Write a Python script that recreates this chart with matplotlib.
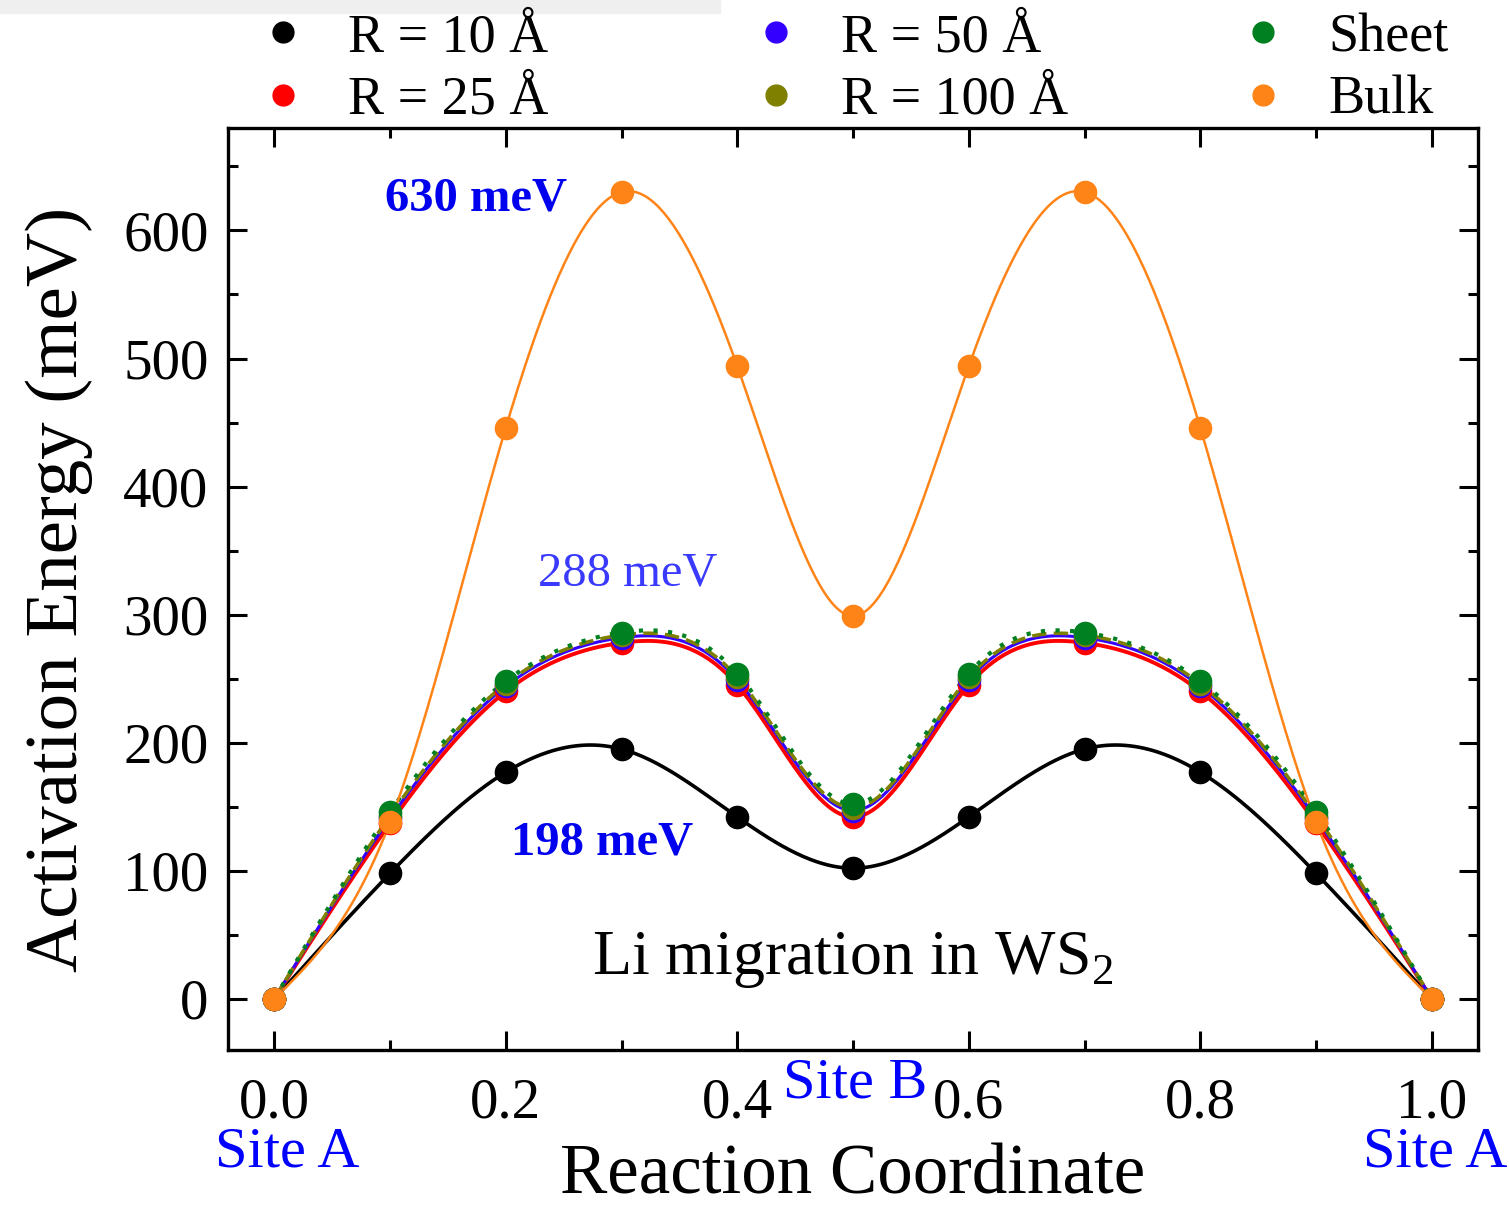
import numpy as np
import matplotlib
matplotlib.use("Agg")
import matplotlib.pyplot as plt
from matplotlib.lines import Line2D
from matplotlib.patches import Rectangle
from matplotlib.ticker import MultipleLocator

plt.rcParams['font.family'] = ['Liberation Serif', 'DejaVu Serif']
plt.rcParams['mathtext.fontset'] = 'custom'
plt.rcParams['mathtext.rm'] = 'Liberation Serif'

# reaction coordinate and energies (meV)
coord = [0.0, 0.1, 0.2, 0.3, 0.4, 0.5, 0.6, 0.7, 0.8, 0.9, 1.0]
r10 = [0, 98, 177, 195, 142, 102, 142, 195, 177, 98, 0]
r25 = [0, 137, 240, 278, 245, 142, 245, 278, 240, 137, 0]
r50 = [0, 141, 244, 282, 249, 147, 249, 282, 244, 141, 0]
r100 = [0, 143, 246, 284, 251, 149, 251, 284, 246, 143, 0]
sheet = [0, 146, 248, 286, 254, 152, 254, 286, 248, 146, 0]
bulk = [0, 138, 446, 630, 494, 299, 494, 630, 446, 138, 0]

labels = ["R = 10 Å", "R = 25 Å", "R = 50 Å", "R = 100 Å", "Sheet", "Bulk"]
colors = ["black", "#ff0000", "#3300ff", "#808000", "#008020", "#ff8418"]
styles = ["-", "-", "-", (0, (4, 2)), (0, (1, 2.5)), "-"]
widths = [2.6, 2.8, 2.2, 2.6, 3.0, 1.8]


# natural cubic spline, like the smooth curves drawn through the points
def spline(x, y, num=500):
    x = np.asarray(x, float)
    y = np.asarray(y, float)
    n = len(x)
    h = np.diff(x)
    A = np.zeros((n, n))
    b = np.zeros(n)
    A[0, 0] = 1
    A[-1, -1] = 1
    for i in range(1, n - 1):
        A[i, i - 1] = h[i - 1]
        A[i, i] = 2 * (h[i - 1] + h[i])
        A[i, i + 1] = h[i]
        b[i] = 3 * ((y[i + 1] - y[i]) / h[i] - (y[i] - y[i - 1]) / h[i - 1])
    c = np.linalg.solve(A, b)
    bb = (y[1:] - y[:-1]) / h - h * (2 * c[:-1] + c[1:]) / 3
    d = (c[1:] - c[:-1]) / (3 * h)
    xs = np.linspace(x[0], x[-1], num)
    idx = np.clip(np.searchsorted(x, xs) - 1, 0, n - 2)
    dx = xs - x[idx]
    ys = y[idx] + bb[idx] * dx + c[idx] * dx ** 2 + d[idx] * dx ** 3
    return xs, ys


fig = plt.figure(figsize=(15.09, 12.10), dpi=100)
ax = fig.add_axes([0.1511, 0.1322, 0.8284, 0.762])

# light grey strip left over at the top of the original
fig.patches.append(Rectangle((0, 1 - 13 / 1210), 720 / 1509, 13 / 1210,
                             transform=fig.transFigure, color="#efefef", zorder=0))

series = [r10, r25, r50, r100, sheet, bulk]
handles = []
for vals, lab, col, ls, lw in zip(series, labels, colors, styles, widths):
    xs, ys = spline(coord, vals)
    ax.plot(xs, ys, color=col, ls=ls, lw=lw, zorder=2)
    ax.plot(coord, vals, "o", color=col, ms=16, zorder=3)
    handles.append(Line2D([], [], marker="o", ls="none", color=col, ms=15, label=lab))

ax.set_xlim(-0.04, 1.04)
ax.set_ylim(-40, 680)
ax.xaxis.set_major_locator(MultipleLocator(0.2))
ax.xaxis.set_minor_locator(MultipleLocator(0.1))
ax.yaxis.set_major_locator(MultipleLocator(100))
ax.yaxis.set_minor_locator(MultipleLocator(50))
ax.set_xticks([0.0, 0.2, 0.4, 0.6, 0.8, 1.0])
ax.set_xticklabels(["0.0", "0.2", "0.4", "0.6", "0.8", "1.0"])
ax.tick_params(which="both", direction="in", top=True, right=True, width=2.2)
ax.tick_params(which="major", length=14, labelsize=41)
ax.tick_params(which="minor", length=7)
ax.tick_params(axis="x", pad=20)
ax.tick_params(axis="y", pad=14)
for s in ax.spines.values():
    s.set_linewidth(2.4)

ax.set_xlabel("Reaction Coordinate", fontsize=51, labelpad=10)
ax.set_ylabel("Activation Energy (meV)", fontsize=54, labelpad=22)

ax.text(0.5, 30, "Li migration in WS$_2$", fontsize=46, ha="center", va="center")
ax.text(0.174, 625, "630 meV", fontsize=35, fontweight="bold", color="#0000ee",
        ha="center", va="center")
ax.text(0.305, 332, "288 meV", fontsize=35, color="#3a3aff", ha="center", va="center")
ax.text(0.283, 122, "198 meV", fontsize=35, fontweight="bold", color="#0000ee",
        ha="center", va="center")

# site names under the axis (x in data units, y in axes units)
tr = ax.get_xaxis_transform()
ax.text(0.011, -0.111, "Site A", transform=tr, fontsize=42, color="#0000ff",
        ha="center", va="center")
ax.text(1.003, -0.111, "Site A", transform=tr, fontsize=42, color="#0000ff",
        ha="center", va="center")
ax.text(0.502, -0.036, "Site B", transform=tr, fontsize=42, color="#0000ff",
        ha="center", va="center")

# legend in three columns above the axes
cols = [(handles[0], handles[1]), (handles[2], handles[3]), (handles[4], handles[5])]
xpos = [0.155, 0.482, 0.805]
for hs, xp in zip(cols, xpos):
    fig.legend(handles=list(hs), loc="upper left", bbox_to_anchor=(xp, 1.012),
               frameon=False, fontsize=39, handlelength=0.8, handletextpad=0.8,
               labelspacing=0.22, borderpad=0.0)

fig.savefig("out.png", dpi=100)
